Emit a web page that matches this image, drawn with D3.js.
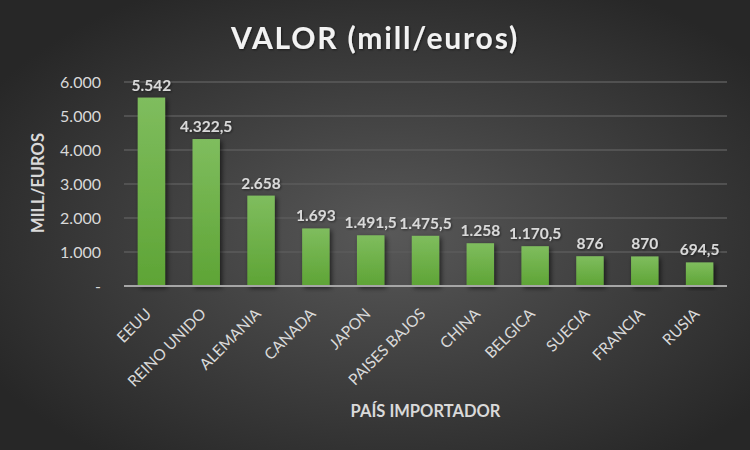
<!DOCTYPE html>
<html>
<head>
<meta charset="utf-8">
<script src="https://cdn.jsdelivr.net/npm/d3@7"></script>
<style>
    html, body { margin: 0; padding: 0; background: #2b2b2b; }
    svg { display: block; font-family: Lato, "Open Sans", sans-serif; }
</style>
</head>
<body>
<div id="chart"></div>
<script>
// Import values per country, millions of euros
const countries = ["EEUU", "REINO UNIDO", "ALEMANIA", "CANADA", "JAPON", "PAISES BAJOS",
    "CHINA", "BELGICA", "SUECIA", "FRANCIA", "RUSIA"];
const values = [5542, 4322.5, 2658, 1693, 1491.5, 1475.5, 1258, 1170.5, 876, 870, 694.5];
const yTicks = [0, 1000, 2000, 3000, 4000, 5000, 6000];

const data = countries.map((name, i) => ({ name, value: values[i] }));

const width = 750;
const height = 450;
const margin = { top: 82, right: 23, bottom: 164, left: 124 };

// Spanish number format: dot for thousands, comma for decimals
const es = d3.formatLocale({ decimal: ",", thousands: ".", grouping: [3], currency: ["", "€"] });
const fmtTick = v => v === 0 ? "-" : es.format(",")(v);
const fmtValue = v => es.format(",")(v);

const svg = d3.select("#chart")
    .append("svg")
    .attr("width", width)
    .attr("height", height);

const defs = svg.append("defs");

const bg = defs.append("radialGradient")
    .attr("id", "bg")
    .attr("cx", "52%").attr("cy", "52%").attr("r", "62%");
bg.append("stop").attr("offset", "0%").attr("stop-color", "#585858");
bg.append("stop").attr("offset", "100%").attr("stop-color", "#272727");

const barGrad = defs.append("linearGradient")
    .attr("id", "bar")
    .attr("x1", 0).attr("y1", 0).attr("x2", 0).attr("y2", 1);
barGrad.append("stop").attr("offset", "0%").attr("stop-color", "#7fbd5e");
barGrad.append("stop").attr("offset", "100%").attr("stop-color", "#5ea435");

const shadow = defs.append("filter")
    .attr("id", "shadow")
    .attr("x", "-30%").attr("y", "-10%").attr("width", "170%").attr("height", "130%");
shadow.append("feDropShadow")
    .attr("dx", 2).attr("dy", 2).attr("stdDeviation", 2.5)
    .attr("flood-color", "#000").attr("flood-opacity", 0.6);

const textShadow = defs.append("filter").attr("id", "tshadow");
textShadow.append("feDropShadow")
    .attr("dx", 1).attr("dy", 1).attr("stdDeviation", 1)
    .attr("flood-color", "#000").attr("flood-opacity", 0.5);

svg.append("rect")
    .attr("width", width)
    .attr("height", height)
    .attr("fill", "url(#bg)");

const x = d3.scaleBand()
    .domain(countries)
    .range([margin.left, width - margin.right])
    .paddingInner(0.5)
    .paddingOuter(0.25);

const y = d3.scaleLinear()
    .domain([0, 6000])
    .range([height - margin.bottom, margin.top]);

// gridlines
svg.append("g")
    .selectAll("line")
    .data(yTicks.filter(t => t > 0))
    .join("line")
    .attr("x1", margin.left)
    .attr("x2", width - margin.right)
    .attr("y1", d => y(d))
    .attr("y2", d => y(d))
    .attr("stroke", "#5b5b5b")
    .attr("stroke-width", 1.5);

const yAxis = d3.axisLeft(y)
    .tickValues(yTicks)
    .tickFormat(fmtTick)
    .tickSize(0)
    .tickPadding(23);

svg.append("g")
    .attr("transform", `translate(${margin.left},0)`)
    .call(yAxis)
    .call(g => g.select(".domain").remove())
    .selectAll("text")
    .attr("fill", "#d9d9d9")
    .attr("font-size", 16)
    .attr("font-family", "Lato, sans-serif");

svg.append("g")
    .selectAll("rect")
    .data(data)
    .join("rect")
    .attr("x", d => x(d.name))
    .attr("y", d => y(d.value))
    .attr("width", x.bandwidth())
    .attr("height", d => y(0) - y(d.value))
    .attr("fill", "url(#bar)")
    .attr("filter", "url(#shadow)");

// x axis baseline
svg.append("line")
    .attr("x1", margin.left)
    .attr("x2", width - margin.right)
    .attr("y1", y(0))
    .attr("y2", y(0))
    .attr("stroke", "#a6a6a6")
    .attr("stroke-width", 2);

// value labels
svg.append("g")
    .selectAll("text")
    .data(data)
    .join("text")
    .attr("x", d => x(d.name) + x.bandwidth() / 2)
    .attr("y", d => y(d.value) - 7)
    .attr("text-anchor", "middle")
    .attr("font-size", 15.5)
    .attr("font-weight", "bold")
    .attr("fill", "#d9d9d9")
    .attr("filter", "url(#tshadow)")
    .text(d => fmtValue(d.value));

// category labels
svg.append("g")
    .selectAll("text")
    .data(data)
    .join("text")
    .attr("transform", d => `translate(${x(d.name) + x.bandwidth() / 2 - 3},${y(0) + 25}) rotate(-45)`)
    .attr("text-anchor", "end")
    .attr("dy", "0.35em")
    .attr("font-size", 15.5)
    .attr("fill", "#d9d9d9")
    .text(d => d.name);

svg.append("text")
    .attr("x", width / 2)
    .attr("y", 49)
    .attr("text-anchor", "middle")
    .attr("font-size", 30)
    .attr("font-weight", "bold")
    .attr("letter-spacing", 1.8)
    .attr("fill", "#f2f2f2")
    .attr("filter", "url(#tshadow)")
    .text("VALOR (mill/euros)");

svg.append("text")
    .attr("transform", `translate(44,${(y(0) + y(6000)) / 2 - 1}) rotate(-90)`)
    .attr("text-anchor", "middle")
    .attr("font-size", 16.5)
    .attr("font-weight", "bold")
    .attr("fill", "#d9d9d9")
    .text("MILL/EUROS");

svg.append("text")
    .attr("x", (margin.left + width - margin.right) / 2)
    .attr("y", 417)
    .attr("text-anchor", "middle")
    .attr("font-size", 16.5)
    .attr("font-weight", "bold")
    .attr("fill", "#d9d9d9")
    .text("PAÍS IMPORTADOR");
</script>
</body>
</html>
